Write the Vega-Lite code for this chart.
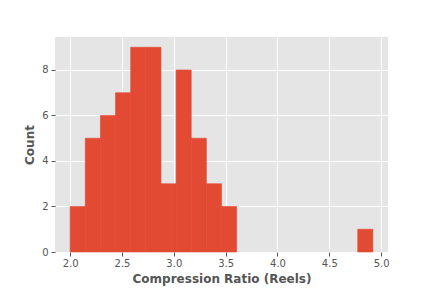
{
  "$schema": "https://vega.github.io/schema/vega-lite/v6.json",
  "width": 333,
  "height": 215,
  "autosize": {"type": "none"},
  "padding": {"left": 55, "top": 37, "right": 44, "bottom": 36},
  "background": "white",
  "config": {
    "view": {"fill": "#E5E5E5", "stroke": null},
    "font": "DejaVu Sans"
  },
  "data": {
    "values": [
      {"bin_start": 2.0, "bin_end": 2.146, "count": 2},
      {"bin_start": 2.146, "bin_end": 2.292, "count": 5},
      {"bin_start": 2.292, "bin_end": 2.438, "count": 6},
      {"bin_start": 2.438, "bin_end": 2.584, "count": 7},
      {"bin_start": 2.584, "bin_end": 2.73, "count": 9},
      {"bin_start": 2.73, "bin_end": 2.876, "count": 9},
      {"bin_start": 2.876, "bin_end": 3.022, "count": 3},
      {"bin_start": 3.022, "bin_end": 3.168, "count": 8},
      {"bin_start": 3.168, "bin_end": 3.314, "count": 5},
      {"bin_start": 3.314, "bin_end": 3.46, "count": 3},
      {"bin_start": 3.46, "bin_end": 3.606, "count": 2},
      {"bin_start": 3.606, "bin_end": 3.752, "count": 0},
      {"bin_start": 3.752, "bin_end": 3.898, "count": 0},
      {"bin_start": 3.898, "bin_end": 4.044, "count": 0},
      {"bin_start": 4.044, "bin_end": 4.19, "count": 0},
      {"bin_start": 4.19, "bin_end": 4.336, "count": 0},
      {"bin_start": 4.336, "bin_end": 4.482, "count": 0},
      {"bin_start": 4.482, "bin_end": 4.628, "count": 0},
      {"bin_start": 4.628, "bin_end": 4.774, "count": 0},
      {"bin_start": 4.774, "bin_end": 4.92, "count": 1}
    ]
  },
  "transform": [{"filter": "datum.count > 0"}],
  "mark": {"type": "rect", "color": "#E24A33", "stroke": "#E24A33", "strokeWidth": 0.6},
  "encoding": {
    "x": {
      "field": "bin_start",
      "type": "quantitative",
      "scale": {"domain": [1.854, 5.066], "nice": false, "zero": false},
      "axis": {
        "title": "Compression Ratio (Reels)",
        "values": [2.0, 2.5, 3.0, 3.5, 4.0, 4.5, 5.0],
        "format": ".1f",
        "grid": true,
        "gridColor": "white",
        "gridWidth": 1,
        "domain": false,
        "tickColor": "#555555",
        "tickSize": 4,
        "tickWidth": 1,
        "labelColor": "#555555",
        "labelFontSize": 10,
        "labelPadding": 2,
        "titleColor": "#555555",
        "titleFontSize": 12,
        "titleFontWeight": "bold",
        "titlePadding": 5
      }
    },
    "x2": {"field": "bin_end"},
    "y": {
      "field": "count",
      "type": "quantitative",
      "scale": {"domain": [0, 9.45], "nice": false},
      "axis": {
        "title": "Count",
        "values": [0, 2, 4, 6, 8],
        "grid": true,
        "gridColor": "white",
        "gridWidth": 1,
        "domain": false,
        "tickColor": "#555555",
        "tickSize": 4,
        "tickWidth": 1,
        "labelColor": "#555555",
        "labelFontSize": 10,
        "labelPadding": 3,
        "titleColor": "#555555",
        "titleFontSize": 12,
        "titleFontWeight": "bold",
        "titlePadding": 5
      }
    },
    "y2": {"datum": 0}
  }
}
